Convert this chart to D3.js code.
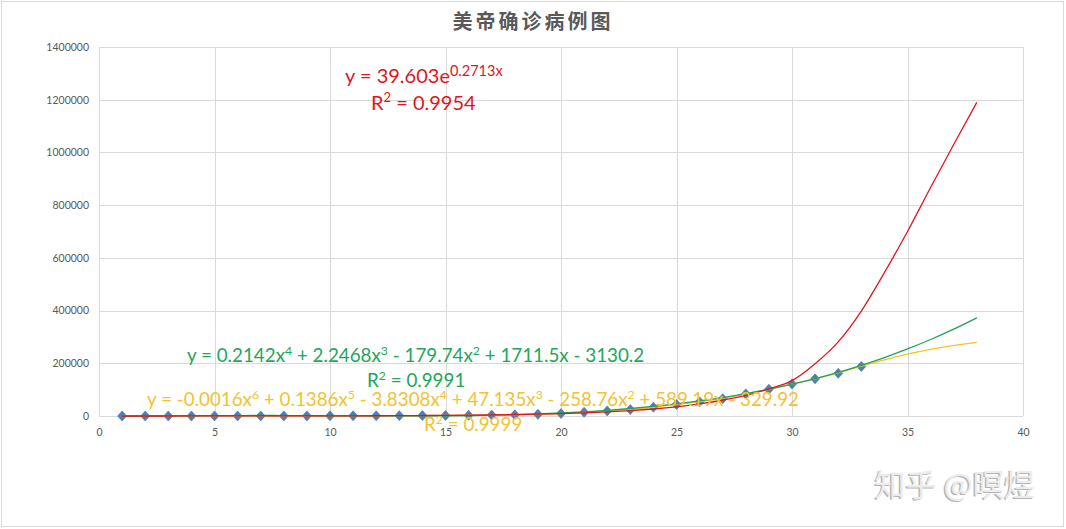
<!DOCTYPE html>
<html>
<head>
<meta charset="UTF-8">
<title>美帝确诊病例图</title>
<style>
  body { margin: 0; background: #fff; }
  svg text { font-family: Lato, "Noto Sans", sans-serif; }
</style>
</head>
<body>
<div id="chart"></div>
<script src="https://cdn.jsdelivr.net/npm/d3@7/dist/d3.min.js"></script>
<script>
// ---- data ----
var title = "美帝确诊病例图";
var days = d3.range(1, 34);
var cases = [62, 68, 75, 100, 124, 158, 221, 319, 435, 541, 704, 994, 1301, 1630, 2183,
             2771, 3617, 4604, 6357, 9317, 13898, 19383, 24207, 33566, 43734, 53740,
             65778, 83836, 101657, 121465, 140909, 161831, 188172];
var trendDays = d3.range(1, 39);
// exponential trendline (red)
var expTrend = [52, 68, 90, 117, 154, 202, 265, 347, 455, 597, 783, 1026, 1346, 1765, 2314,
                3035, 3980, 5220, 6845, 8977, 11770, 15440, 20240, 26550, 34810, 45650,
                59870, 78510, 103000, 134000, 198000, 281000, 398000, 544000, 700000,
                867000, 1030000, 1190000];
// 4th order polynomial trendline (green)
var poly4Trend = [-1596, -700, 100, 800, 1349, 1700, 1850, 1800, 1500, 400, 200, 100, 150,
                  250, 528, 1500, 3000, 5030, 7829, 11450, 16012, 21631, 28432, 36542,
                  46098, 57239, 70110, 84857, 101640, 120615, 141949, 165812, 192380,
                  221833, 254357, 290142, 329384, 372284];
// 6th order polynomial trendline (yellow)
var poly6Trend = [44, 60, 80, 100, 130, 170, 230, 320, 430, 560, 720, 980, 1290, 1650, 2150,
                  2800, 3650, 4700, 6400, 9300, 13700, 19100, 24800, 33200, 43600, 54200,
                  66800, 83600, 101500, 121200, 141300, 163500, 189000, 213000, 235000,
                  253000, 267000, 279000];
var xTicks = [0, 5, 10, 15, 20, 25, 30, 35, 40];
var yTicks = [0, 200000, 400000, 600000, 800000, 1000000, 1200000, 1400000];
var expEq = ["y = 39.603e", "0.2713x"];
var expR2 = "R^2 = 0.9954";
var poly4Eq = "y = 0.2142x^4 + 2.2468x^3 - 179.74x^2 + 1711.5x - 3130.2";
var poly4R2 = "R^2 = 0.9991";
var poly6Eq = "y = -0.0016x^6 + 0.1386x^5 - 3.8308x^4 + 47.135x^3 - 258.76x^2 + 589.19x - 329.92";
var poly6R2 = "R^2 = 0.9999";

var width = 1066, height = 529;
var svg = d3.select("#chart").append("svg")
    .attr("width", width).attr("height", height);

svg.append("rect")
    .attr("x", 1.5).attr("y", 1.5)
    .attr("width", width - 4).attr("height", height - 4)
    .attr("fill", "#fff").attr("stroke", "#d9d9d9");

var x = d3.scaleLinear().domain([0, 40]).range([99, 1023]);
var y = d3.scaleLinear().domain([0, 1400000]).range([416, 47]);

// grid
svg.append("g").selectAll("line").data(yTicks).join("line")
    .attr("x1", x(0)).attr("x2", x(40))
    .attr("y1", function(d) { return Math.round(y(d)) + 0.5; })
    .attr("y2", function(d) { return Math.round(y(d)) + 0.5; })
    .attr("stroke", "#d9d9d9");
svg.append("g").selectAll("line").data(xTicks).join("line")
    .attr("y1", y(0)).attr("y2", y(1400000))
    .attr("x1", function(d) { return Math.round(x(d)) + 0.5; })
    .attr("x2", function(d) { return Math.round(x(d)) + 0.5; })
    .attr("stroke", "#d9d9d9");

// axes
var yAxis = svg.append("g")
    .attr("transform", "translate(" + (x(0) - 7) + ",0)")
    .call(d3.axisLeft(y).tickValues(yTicks).tickSize(0).tickFormat(d3.format("d")));
var xAxis = svg.append("g")
    .attr("transform", "translate(0," + (y(0) + 10) + ")")
    .call(d3.axisBottom(x).tickValues(xTicks).tickSize(0));
[xAxis, yAxis].forEach(function(a) {
    a.select(".domain").remove();
    a.selectAll("text").attr("fill", "#595959").attr("font-size", "10.5px")
        .style("font-family", "Lato, sans-serif");
});

// title
svg.append("text")
    .attr("x", 533).attr("y", 29)
    .attr("text-anchor", "middle")
    .attr("fill", "#595959")
    .attr("font-size", "20px")
    .attr("font-weight", "bold")
    .attr("letter-spacing", "3px")
    .style("font-family", "'Noto Sans CJK SC', sans-serif")
    .text(title);

// data markers
svg.append("g").selectAll("path").data(days).join("path")
    .attr("transform", function(d, i) { return "translate(" + x(d) + "," + y(cases[i]) + ")"; })
    .attr("d", "M0,-5L4.5,0L0,5L-4.5,0Z")
    .attr("fill", "#4f7fb4")
    .attr("stroke", "#44709f")
    .attr("stroke-width", 0.6);

// trendlines
function trend(values, color) {
    var line = d3.line()
        .x(function(d, i) { return x(trendDays[i]); })
        .y(function(d) { return y(d); })
        .curve(d3.curveMonotoneX);
    svg.append("path")
        .datum(values)
        .attr("d", line)
        .attr("fill", "none")
        .attr("stroke", color)
        .attr("stroke-width", 1.3);
}
trend(poly6Trend, "#f5c22a");
trend(poly4Trend, "#1fa35a");
trend(expTrend, "#e0161e");

// equation labels with superscripts
function label(str, px, py, color, size) {
    var t = svg.append("text")
        .attr("x", px).attr("y", py)
        .attr("fill", color)
        .attr("font-size", size + "px");
    var parts = str.split(/\^(\S)/);
    var up = false;
    parts.forEach(function(p, i) {
        if (p === "") return;
        var sup = i % 2 === 1;
        var ts = t.append("tspan").text(p);
        if (sup) {
            ts.attr("font-size", (size * 0.65) + "px").attr("dy", -size * 0.38);
            up = true;
        } else if (up) {
            ts.attr("dy", size * 0.38);
            up = false;
        }
    });
    return t;
}

var et = svg.append("text").attr("x", 345).attr("y", 83)
    .attr("fill", "#e0161e").attr("font-size", "20px");
et.append("tspan").text(expEq[0]);
et.append("tspan").text(expEq[1]).attr("font-size", "14.5px").attr("dy", -7);
label(expR2, 371, 110, "#e0161e", 20);

label(poly4Eq, 187, 362, "#22a65a", 18.8);
label(poly4R2, 367, 387, "#22a65a", 18.8);
label(poly6Eq, 147, 406, "#f2c232", 18.8);
label(poly6R2, 424, 431, "#f2c232", 18.8);

// watermark
var wm = "知乎 @暝煜";
svg.append("text")
    .attr("x", 873).attr("y", 497)
    .attr("fill", "#b5b5b5")
    .attr("font-size", "31px")
    .style("font-family", "'Noto Sans CJK SC', sans-serif")
    .text(wm);
svg.append("text")
    .attr("x", 874.5).attr("y", 495.5)
    .attr("fill", "#ececec")
    .attr("font-size", "31px")
    .style("font-family", "'Noto Sans CJK SC', sans-serif")
    .text(wm);
</script>
</body>
</html>
